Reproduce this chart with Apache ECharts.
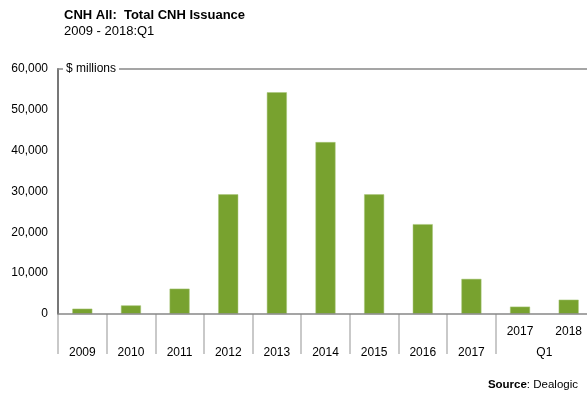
<!DOCTYPE html>
<html>
<head>
<meta charset="utf-8">
<script src="https://cdn.jsdelivr.net/npm/echarts@6/dist/echarts.min.js"></script>
<style>
html,body{margin:0;padding:0;background:#fff;}
#chart{width:587px;height:394px;}
</style>
</head>
<body>
<div id="chart"></div>
<script>
// ---- data ----
var annualYears = ['2009','2010','2011','2012','2013','2014','2015','2016','2017'];
var q1Years = ['2017','2018'];
var q1Label = 'Q1';
var annualValues = [1300, 2100, 6200, 29300, 54300, 42100, 29300, 22000, 8600];
var q1Values = [1800, 3500];
var yTicks = [0, 10000, 20000, 30000, 40000, 50000, 60000];
var titleText = 'CNH All:  Total CNH Issuance';
var subtitleText = '2009 - 2018:Q1';
var unitText = '$ millions';
var sourceLabel = 'Source';
var sourceText = 'Dealogic';

// ---- build ----
var categories = annualYears.concat(q1Years);
var values = annualValues.concat(q1Values);
var n = categories.length;

var sepValues = [];
for (var i = 0; i <= annualYears.length; i++) sepValues.push(i);
sepValues.push(n);
var groupLabelPos = [];
var groupLabelText = {};
annualYears.forEach(function (y, i) { groupLabelPos.push(i + 0.5); groupLabelText[i + 0.5] = y; });
var q1Center = annualYears.length + q1Years.length / 2;
groupLabelPos.push(q1Center); groupLabelText[q1Center] = q1Label;

function fmt(v) { return String(v).replace(/\B(?=(\d{3})+(?!\d))/g, ','); }

var chart = echarts.init(document.getElementById('chart'), null, {renderer: 'canvas'});
var font = 'Liberation Sans, Arial, sans-serif';
chart.setOption({
  animation: false,
  textStyle: {fontFamily: font},
  title: [{
    text: titleText,
    subtext: subtitleText,
    left: 59, top: 4,
    itemGap: 3,
    textStyle: {fontSize: 13, fontWeight: 'bold', color: '#000', fontFamily: font},
    subtextStyle: {fontSize: 13, color: '#000', fontFamily: font}
  }, {
    text: '{b|' + sourceLabel + '}: ' + sourceText,
    right: 4, bottom: -2,
    textStyle: {fontSize: 11.5, fontWeight: 'normal', color: '#000', fontFamily: font,
      rich: {b: {fontWeight: 'bold', fontSize: 11.5, color: '#000', fontFamily: font}}}
  }, {
    text: unitText,
    left: 63, top: 63,
    padding: [0, 3, 0, 3],
    backgroundColor: '#fff',
    textStyle: {fontSize: 12, fontWeight: 'normal', color: '#000', fontFamily: font}
  }],
  grid: {left: 58, top: 69, width: 535, height: 245, containLabel: false, outerBoundsMode: 'none'},
  xAxis: [{
    type: 'category',
    data: categories,
    position: 'bottom',
    axisLine: {show: true, lineStyle: {color: '#888', width: 1.5}},
    axisTick: {show: false},
    axisLabel: {
      color: '#000', fontSize: 12, margin: 12,
      interval: 0,
      formatter: function (v, idx) { return idx >= annualYears.length ? v : ''; }
    },
    z: 5
  }, {
    type: 'value',
    min: 0, max: n,
    position: 'bottom',
    axisLine: {show: false},
    axisTick: {show: true, customValues: sepValues, length: 40, lineStyle: {color: '#b8b8b8', width: 1.5}},
    axisLabel: {
      show: true, customValues: groupLabelPos, color: '#000', fontSize: 12, margin: 33,
      formatter: function (v) { return groupLabelText[v] || ''; }
    },
    splitLine: {show: false}
  }, {
    type: 'value',
    min: 0, max: n,
    position: 'top',
    axisLine: {show: true, lineStyle: {color: '#888', width: 1.5}},
    axisTick: {show: false},
    axisLabel: {show: false},
    splitLine: {show: false}
  }],
  yAxis: {
    type: 'value',
    min: yTicks[0], max: yTicks[yTicks.length - 1], interval: yTicks[1] - yTicks[0],
    axisLine: {show: true, lineStyle: {color: '#777', width: 2}},
    axisTick: {show: false},
    splitLine: {show: false},
    axisLabel: {color: '#000', fontSize: 12, margin: 10, formatter: fmt}
  },
  series: [{
    type: 'bar',
    xAxisIndex: 0,
    data: values,
    barWidth: 20,
    itemStyle: {color: '#78A22F', borderColor: '#a9c77a', borderWidth: 0.5},
    z: 2
  }]
});
</script>
</body>
</html>
